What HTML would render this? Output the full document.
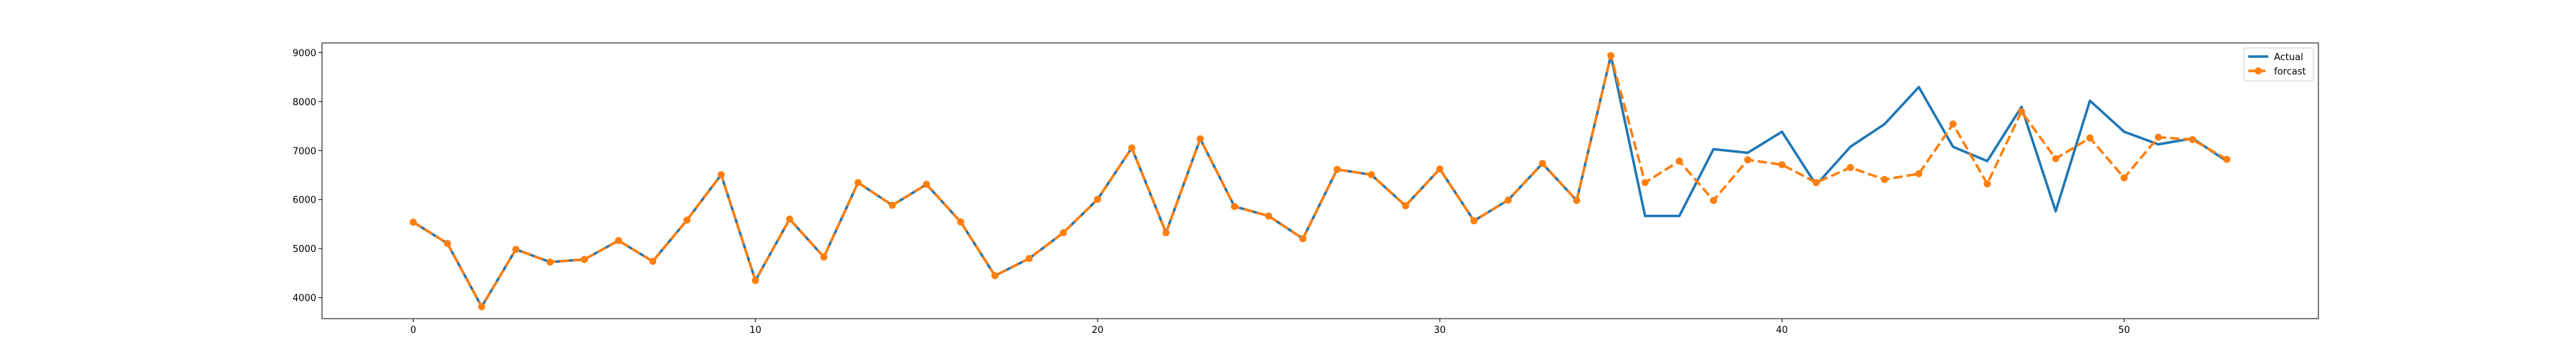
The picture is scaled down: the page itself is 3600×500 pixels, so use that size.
<!DOCTYPE html>
<html><head><meta charset="utf-8"><style>body{margin:0;background:#fff}svg{display:block}text{font-family:"DejaVu Sans","Liberation Sans",sans-serif;font-size:13px;fill:#000}</style></head>
<body>
<svg id="chart" width="3600" height="500" xmlns="http://www.w3.org/2000/svg">
<rect width="3600" height="500" fill="#fff"/>
<g id="plot"></g>
</svg>
<script>
const actual=[5540,5105,3815,4984,4725,4779,5164,4740,5582,6507,4350,5602,4828,6347,5884,6310,5543,4448,4798,5324,6006,7053,5324,7238,5860,5665,5203,6615,6507,5874,6624,5568,5991,6736,5982,8937,5665,5665,7028,6955,7384,6298,7077,7540,8294,7077,6785,7890,5762,8017,7384,7126,7248,6785];
const forecast=[5540,5105,3815,4984,4725,4779,5164,4740,5582,6507,4350,5602,4828,6347,5884,6310,5543,4448,4798,5324,6006,7053,5324,7238,5860,5665,5203,6615,6507,5874,6624,5568,5991,6736,5982,8937,6347,6785,5982,6810,6712,6347,6653,6410,6527,7540,6322,7793,6834,7257,6444,7272,7223,6820];
const xTicks=[0,10,20,30,40,50];
const yTicks=[4000,5000,6000,7000,8000,9000];
const L=450,R=3240,T=60,B=445;
const X=v=>577.5+v*47.82;
const Y=v=>415.7-(v-4000)*0.06848;
const NS='http://www.w3.org/2000/svg';
const g=document.getElementById('plot');
function mk(t,a){const e=document.createElementNS(NS,t);for(const k in a)e.setAttribute(k,a[k]);g.appendChild(e);return e;}
xTicks.forEach(v=>{
 const l=mk('line',{x1:X(v),x2:X(v),y1:B,y2:B+5,stroke:'#000','stroke-width':1});
 
 
 const t=mk('text',{x:X(v),y:B+20,'text-anchor':'middle'});t.textContent=v;
 
 
});
yTicks.forEach(v=>{
 const l=mk('line',{x1:L-5,x2:L,y1:Y(v),y2:Y(v),stroke:'#000','stroke-width':1});
 
 
 const t=mk('text',{x:L-8,y:Y(v)+5,'text-anchor':'end'});t.textContent=v;
 
 
});
const pa=mk('polyline',{points:actual.map((v,i)=>X(i)+','+Y(v)).join(' '),fill:'none',stroke:'#1f77b4','stroke-width':3.5,'stroke-linejoin':'round'});


const pf=mk('polyline',{points:forecast.map((v,i)=>X(i)+','+Y(v)).join(' '),fill:'none',stroke:'#ff7f0e','stroke-width':3.5,'stroke-dasharray':'13,5.5'});


forecast.forEach((v,i)=>{
 const c=mk('circle',{cx:X(i),cy:Y(v),r:5,fill:'#ff7f0e'});
 
 
});
const fr=mk('rect',{x:L,y:T,width:R-L,height:B-T,fill:'none',stroke:'#000','stroke-width':1});


const lg=mk('rect',{x:3136,y:67,width:97,height:46,fill:'#fff',stroke:'#ccc','stroke-width':1,rx:3});


const l1=mk('line',{x1:3142,x2:3170,y1:79,y2:79,stroke:'#1f77b4','stroke-width':3.5});


const t1=mk('text',{x:3178,y:84});t1.textContent='Actual';


const l2=mk('line',{x1:3142,x2:3170,y1:99,y2:99,stroke:'#ff7f0e','stroke-width':3.5,'stroke-dasharray':'10,4'});


const c2=mk('circle',{cx:3156,cy:99,r:5,fill:'#ff7f0e'});


const t2=mk('text',{x:3178,y:104});t2.textContent='forcast';


</script>
</body></html>
